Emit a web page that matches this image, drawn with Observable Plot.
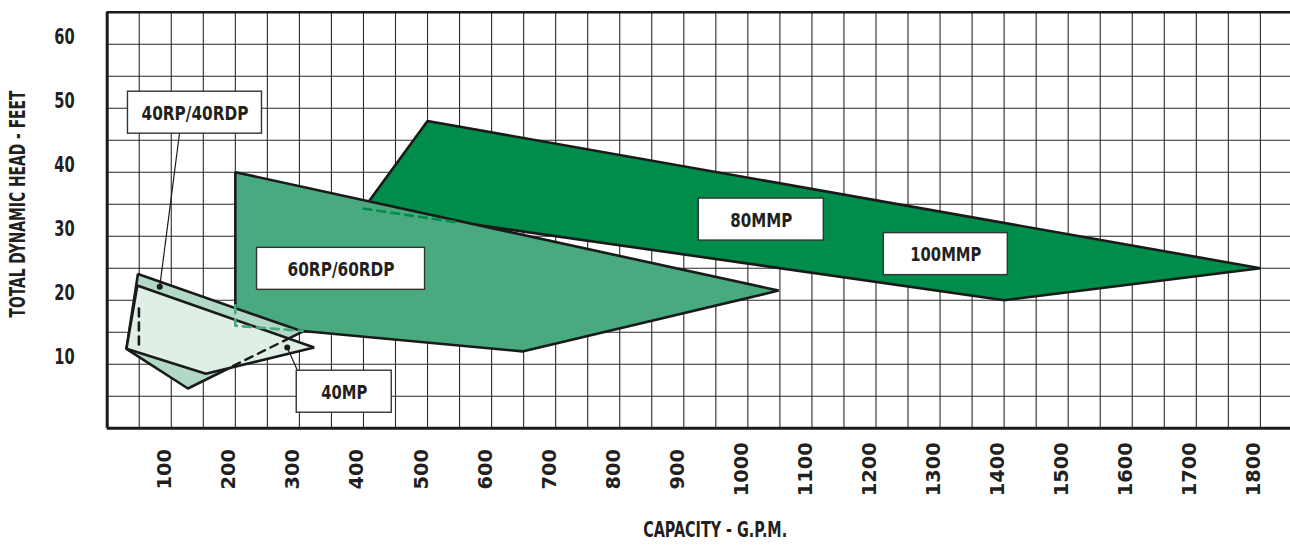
<!DOCTYPE html>
<html>
<head>
<meta charset="utf-8">
<script src="https://cdn.jsdelivr.net/npm/d3@7"></script>
<script src="https://cdn.jsdelivr.net/npm/@observablehq/plot@0.6"></script>
<style>
  html, body { margin: 0; padding: 0; background: #fff; }
  #chart svg { display: block; }
</style>
</head>
<body>
<div id="chart"></div>
<script>
// ---- data (GPM, feet) ----
const xTicks = [100, 200, 300, 400, 500, 600, 700, 800, 900, 1000, 1100, 1200, 1300, 1400, 1500, 1600, 1700, 1800];
const yTicks = [10, 20, 30, 40, 50, 60];

const mmpRange   = [[500, 48], [1800, 25], [1400, 20], [400, 34.3]];
const rp60Range  = [[200, 40], [1048, 21.5], [648, 12], [305, 15.2], [200, 16]];
const rp40Range  = [[48, 24.1], [305, 15.1], [126, 6.2], [30, 12.4]];
const mp40Range  = [[47, 22.3], [323, 12.6], [154, 8.5], [30, 12.4]];

const hidden60   = [[200, 19.2], [200, 16], [305, 15.2]];
const hiddenMMP  = [[400, 34.3], [545, 32.2]];
const hidden40RP = [[196, 9.7], [283, 14.0]];
const hidden40L  = [[49.5, 18.7], [49.5, 12.2]];

const labelNames = ["40RP/40RDP", "60RP/60RDP", "40MP", "80MMP", "100MMP"];
const labelX     = [137, 365, 370, 1021, 1309];
const labelY     = [49.3, 24.9, 5.7, 32.6, 27.2];

const pointerFrom = [[113, 46.2], [297, 9.0]];
const pointerTo   = [[82, 22.1], [281, 12.6]];

const xTitle = "CAPACITY - G.P.M.";
const yTitle = "TOTAL DYNAMIC HEAD - FEET";

// ---- layout ----
const W = 1290, H = 548;
const mL = 106.7, mR = 0, mT = 11.7, mB = 120.3;
const xDomain = [0, 1847], yDomain = [0, 65];
const pxPerX = (W - mL - mR) / (xDomain[1] - xDomain[0]);
const pxPerY = (H - mT - mB) / (yDomain[1] - yDomain[0]);
const boxW = [134, 168, 95, 125, 124];
const boxH = 42;
const labelLen = [107, 107, 46, 62, 71];

const FONT = "'DejaVu Sans Condensed', 'DejaVu Sans', sans-serif";
const ink = "#231f20";

const toPts = arr => arr.map(([x, y]) => ({x, y}));
const idx = labelNames.map((_, i) => i);

const poly = (arr, fill) => Plot.line(toPts(arr), {
  x: "x", y: "y", curve: "linear-closed", fill, stroke: "#1a1a1a", strokeWidth: 2.6, strokeLinejoin: "miter"
});
const dashed = (arr, stroke, w = 2.4, dash = "7,5") => Plot.line(toPts(arr), {
  x: "x", y: "y", stroke, strokeWidth: w, strokeDasharray: dash
});

const chart = Plot.plot({
  width: W, height: H,
  marginLeft: mL, marginRight: mR, marginTop: mT, marginBottom: mB,
  x: {domain: xDomain, axis: null},
  y: {domain: yDomain, axis: null},
  style: {fontFamily: FONT, background: "#fff"},
  marks: [
    // grid
    Plot.ruleX(d3.range(50, 1801, 50), {stroke: "#2b2b2b", strokeWidth: 1.1}),
    Plot.ruleY(d3.range(5, 61, 5), {stroke: "#2b2b2b", strokeWidth: 1.1}),
    // regions
    poly(mmpRange, "#008c4a"),
    poly(rp60Range, "#48aa7e"),
    dashed(hiddenMMP, "#008c4a", 2.6, "8,6"),
    poly(rp40Range, "#b1d9c5"),
    poly(mp40Range, "#dfefe6"),
    dashed(hidden60, "#48aa7e", 2.6, "8,6"),
    dashed(hidden40RP, "#1a1a1a", 2.4, "8,6"),
    dashed(hidden40L, "#1a1a1a", 2.6, "8,6"),
    // pointers
    Plot.link(idx.slice(0, 2), {
      x1: i => pointerFrom[i][0], y1: i => pointerFrom[i][1],
      x2: i => pointerTo[i][0], y2: i => pointerTo[i][1],
      stroke: "#1a1a1a", strokeWidth: 1.2
    }),
    Plot.dot(idx.slice(0, 2), {
      x: i => pointerTo[i][0], y: i => pointerTo[i][1], r: 3, fill: "#1a1a1a"
    }),
    // label boxes
    Plot.rect(idx, {
      x1: i => labelX[i] - boxW[i] / 2 / pxPerX, x2: i => labelX[i] + boxW[i] / 2 / pxPerX,
      y1: i => labelY[i] - boxH / 2 / pxPerY, y2: i => labelY[i] + boxH / 2 / pxPerY,
      fill: "#fff", stroke: "#333", strokeWidth: 1.4
    }),
    Plot.text(idx, {
      x: i => labelX[i], y: i => labelY[i], text: i => labelNames[i],
      fontSize: 19.5, fontWeight: "bold", fill: ink, dy: 1
    }),
    // frame borders
    Plot.ruleY([65], {stroke: "#1a1a1a", strokeWidth: 2.4}),
    Plot.ruleX([0], {stroke: "#1a1a1a", strokeWidth: 3}),
    Plot.ruleY([0], {stroke: "#1a1a1a", strokeWidth: 3}),
    // tick labels
    Plot.text(xTicks, {
      x: d => d, frameAnchor: "bottom", dy: 41, rotate: -90, textAnchor: "middle",
      text: d => String(d), fontSize: 20, fontWeight: "bold", fill: ink
    }),
    Plot.text(yTicks, {
      y: d => d, frameAnchor: "left", dx: -42.7, dy: -7, textAnchor: "middle",
      text: d => String(d), fontSize: 21, fontWeight: "bold", fill: ink
    }),
    // axis titles
    Plot.text([xTitle], {
      frameAnchor: "bottom", dx: 16.3, dy: 108.3, textAnchor: "middle",
      fontSize: 21, fontWeight: "bold", fill: ink
    }),
    Plot.text([yTitle], {
      frameAnchor: "left", dx: -88.7, dy: -16.2, rotate: -90, textAnchor: "middle",
      fontSize: 21.5, fontWeight: "bold", fill: ink
    })
  ]
});
document.getElementById("chart").append(chart);

// condense the lettering to match the narrow typeface of the original
const xTickStrings = xTicks.map(String);
d3.select(chart).selectAll("text").each(function () {
  const s = this.textContent;
  let target = null;
  if (s === xTitle) target = 144;
  else if (s === yTitle) target = 227;
  else if (labelNames.includes(s)) target = labelLen[labelNames.indexOf(s)];
  else if (this.getAttribute("transform") && /rotate/.test(this.getAttribute("transform")) && xTickStrings.includes(s)) target = s.length * 13.5;
  else if (/^\d+$/.test(s)) target = s.length * 10.2;
  if (target) {
    this.setAttribute("textLength", target);
    this.setAttribute("lengthAdjust", "spacingAndGlyphs");
  }
});
</script>
</body>
</html>
